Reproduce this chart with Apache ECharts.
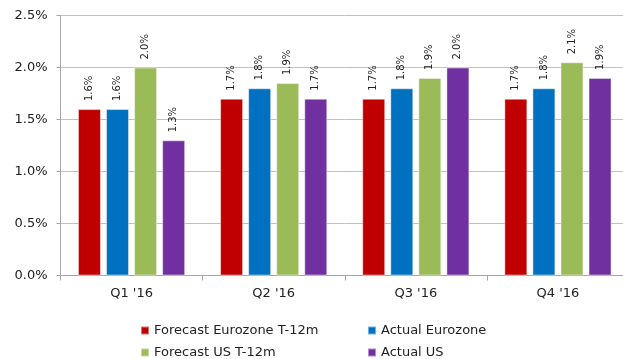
<!DOCTYPE html>
<html>
<head>
<meta charset="utf-8">
<script src="https://cdn.jsdelivr.net/npm/echarts@6/dist/echarts.min.js"></script>
<style>
  html, body { margin: 0; padding: 0; background: #fff; overflow: hidden; }
  /* plot area runs slightly past the right edge of the view */
  #chart { width: 640px; height: 359px; }
</style>
</head>
<body>
<div id="chart"></div>
<script>
// Quarterly inflation: forecasts made 12 months earlier vs. actual outcomes (%)
const quarters = ["Q1 '16", "Q2 '16", "Q3 '16", "Q4 '16"];
const forecastEurozone = [1.6, 1.7, 1.7, 1.7];
const actualEurozone = [1.6, 1.8, 1.8, 1.8];
const forecastUS = [2.0, 1.85, 1.9, 2.05];
const actualUS = [1.3, 1.7, 2.0, 1.9];
const yTicks = [0, 0.5, 1.0, 1.5, 2.0, 2.5];

const FONT = "'DejaVu Sans', Verdana, sans-serif";
const chart = echarts.init(document.getElementById('chart'), null, { renderer: 'canvas' });

function pct(v) { return (Math.round(v * 10) / 10).toFixed(1) + '%'; }

function barSeries(name, data, color) {
  return {
    name: name,
    type: 'bar',
    data: data,
    barWidth: 23,
    barGap: '22%',
    itemStyle: { color: color, borderColor: 'rgba(255,255,255,0.45)', borderWidth: 1 },
    label: {
      show: true,
      position: 'top',
      rotate: 90,
      align: 'left',
      verticalAlign: 'middle',
      distance: 8,
      color: '#222',
      fontFamily: FONT,
      fontSize: 10,
      formatter: p => pct(p.value)
    }
  };
}

const legendCommon = {
  orient: 'vertical', top: 324, height: 40, padding: 0,
  icon: 'rect', itemWidth: 8, itemHeight: 8, itemGap: 9,
  textStyle: { color: '#222', fontSize: 13, lineHeight: 13, fontFamily: FONT }
};

chart.setOption({
  animation: false,
  textStyle: { fontFamily: FONT },
  grid: { left: 60.5, top: 15.5, width: 568.5, height: 260 },
  xAxis: {
    type: 'category',
    data: quarters,
    axisLine: { lineStyle: { color: '#a6a6a6', width: 1 } },
    axisTick: { show: true, alignWithLabel: false, length: 5, lineStyle: { color: '#a6a6a6' } },
    axisLabel: { color: '#222', fontSize: 13, margin: 12, fontFamily: FONT }
  },
  yAxis: {
    type: 'value',
    min: yTicks[0],
    max: yTicks[yTicks.length - 1],
    interval: 0.5,
    axisLine: { show: true, lineStyle: { color: '#a6a6a6', width: 1 } },
    axisTick: { show: true, length: 4, lineStyle: { color: '#a6a6a6' } },
    splitLine: { lineStyle: { color: '#c0c0c0', width: 1 } },
    axisLabel: { color: '#222', fontSize: 13, margin: 13, fontFamily: FONT, formatter: v => v.toFixed(1) + '%' }
  },
  legend: [
    Object.assign({ left: 140, data: ['Forecast Eurozone T-12m', 'Forecast US T-12m'] }, legendCommon),
    Object.assign({ left: 367, data: ['Actual Eurozone', 'Actual US'] }, legendCommon)
  ],
  series: [
    barSeries('Forecast Eurozone T-12m', forecastEurozone, '#C00000'),
    barSeries('Actual Eurozone', actualEurozone, '#0070C0'),
    barSeries('Forecast US T-12m', forecastUS, '#9BBB59'),
    barSeries('Actual US', actualUS, '#7030A0')
  ]
});
</script>
</body>
</html>
